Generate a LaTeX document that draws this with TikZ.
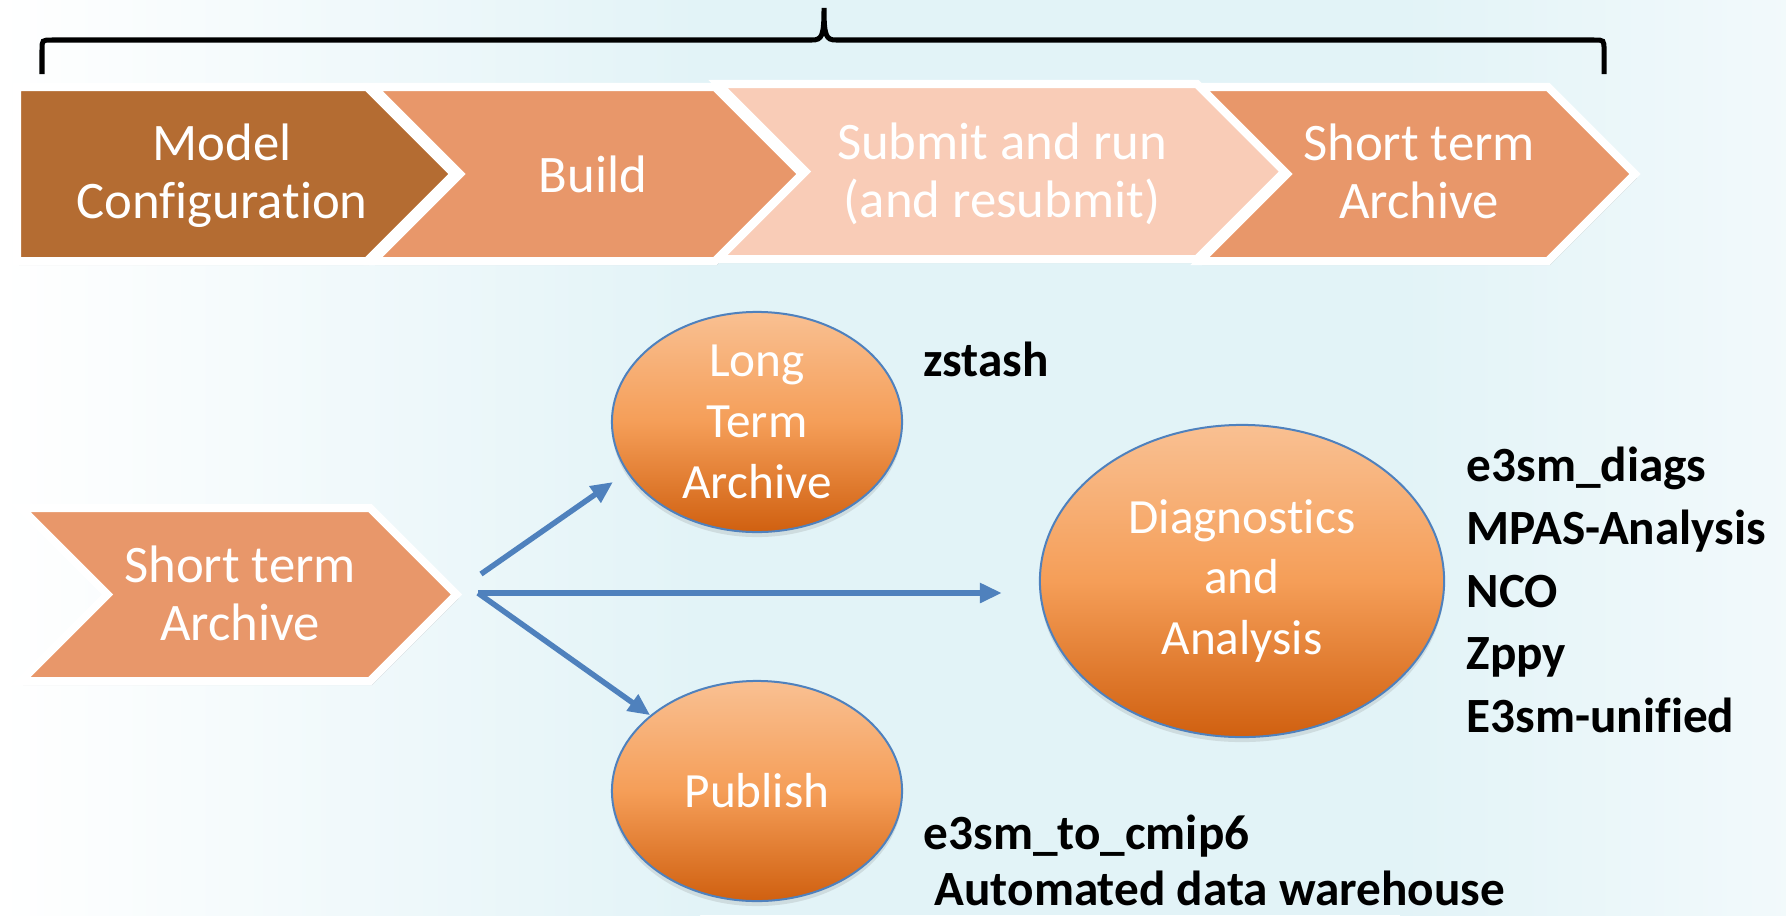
\documentclass[tikz,border=0pt]{standalone}
\usepackage{fontspec}
\setmainfont{Carlito}[Ligatures=NoCommon]
\usetikzlibrary{arrows.meta,shapes.geometric,positioning,shadows}

\definecolor{cfgbrown}{RGB}{180,108,50}
\definecolor{stepsalmon}{RGB}{232,151,106}
\definecolor{runpeach}{RGB}{249,204,183}
\definecolor{ovaltop}{RGB}{249,192,146}
\definecolor{ovalmid}{RGB}{245,158,88}
\definecolor{ovalbot}{RGB}{208,96,16}
\definecolor{flowblue}{RGB}{79,129,189}
\definecolor{bgcyan}{RGB}{226,243,247}

\begin{document}
\begin{tikzpicture}[x=0.01cm,y=-0.01cm,
    chev/.style={draw=white,line width=0.08cm,line join=miter,
      drop shadow={shadow xshift=0.02cm,shadow yshift=-0.04cm,opacity=0.25}},
    lbl/.style={text=white,align=center,inner sep=0pt,font=\fontsize{15}{16.5}\selectfont},
    oval/.style={ellipse,draw=flowblue,line width=0.02cm,top color=ovaltop,bottom color=ovalbot,
      middle color=ovalmid,text=white,align=center,inner sep=0pt,
      font=\fontsize{14}{17.3}\selectfont,
      drop shadow={shadow xshift=0cm,shadow yshift=-0.05cm,opacity=0.2}},
    tool/.style={font=\bfseries\fontsize{14}{17.8}\selectfont,align=left,inner sep=0pt},
    flow/.style={-{Triangle[length=0.22cm,width=0.19cm]},draw=flowblue,line width=0.055cm}]

  % background
  \fill[bgcyan] (0,0) rectangle (1786,915);
  \shade[left color=white,right color=bgcyan] (0,0) rectangle (700,915);
  \shade[left color=bgcyan,right color=white!55!bgcyan] (1400,0) rectangle (1786,915);
  \useasboundingbox (0,0) rectangle (1786,915);

  % brace over the workflow
  \draw[line width=0.05cm] (42,74) -- (42,50) .. controls (42,40) .. (52,40) -- (812,40)
    .. controls (822,40) and (824,36) .. (824,8) .. controls (824,36) and (826,40) .. (836,40)
    -- (1594,40) .. controls (1604,40) .. (1604,50) -- (1604,74);

  % workflow chevrons
  \filldraw[chev,fill=cfgbrown] (17,87) -- (367,87) -- (454,174) -- (367,261) -- (17,261) -- cycle;
  \filldraw[chev,fill=stepsalmon] (373,87) -- (715,87) -- (802,174) -- (715,261) -- (373,261) -- (460,174) -- cycle;
  \filldraw[chev,fill=runpeach] (718,84) -- (1197,84) -- (1284.5,171.5) -- (1197,259) -- (718,259) -- (805.5,171.5) -- cycle;
  \filldraw[chev,fill=stepsalmon] (1200,87) -- (1548,87) -- (1635,174) -- (1548,261) -- (1200,261) -- (1287,174) -- cycle;
  \filldraw[chev,fill=stepsalmon] (21,508) -- (370,508) -- (456.5,594.5) -- (370,681) -- (21,681) -- (107.5,594.5) -- cycle;

  \node[lbl] (cfg) at (222,176) {Model\\Configuration};
  \node[lbl] (build) at (593,174) {Build};
  \node[lbl] (submit) at (1002,174) {Submit and run\\(and resubmit)};
  \node[lbl] (stA) at (1419,171) {Short term\\Archive};
  \node[lbl] (stB) at (240,593) {Short term\\Archive};

  % post-processing
  \node[oval,minimum width=2.9cm,minimum height=2.2cm] (lta) at (757,422) {Long\\Term\\Archive};
  \node[oval,minimum width=2.9cm,minimum height=2.2cm] (pub) at (757,791) {Publish};
  \node[oval,minimum width=4.04cm,minimum height=3.12cm] (diag) at (1242,581) {Diagnostics\\and\\Analysis};

  \node[tool,anchor=base west] (zst) at (923,376) {zstash};
  \node[tool,anchor=west] (tools) at (1466,590) {e3sm\_diags\\MPAS-Analysis\\NCO\\Zppy\\E3sm-unified};
  \node[tool,anchor=base west] (cmip) at (923,849) {e3sm\_to\_cmip6};
  \node[tool,anchor=base west] (dwh) at (934,905) {Automated data warehouse};

  \coordinate (fork) at (478,593);
  \coordinate (forkup) at (481,574);
  \coordinate (ltaend) at (613,482);

  \path (forkup) edge[flow] (ltaend)
        (fork) edge[flow] (pub)
        (fork) edge[flow,shorten >=0.37cm] (fork -| diag.west);
\end{tikzpicture}
\end{document}
